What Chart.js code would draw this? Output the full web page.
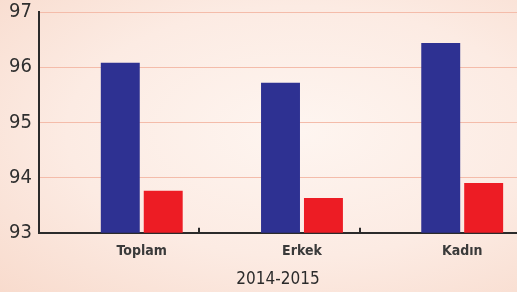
<!DOCTYPE html>
<html>
<head>
<meta charset="utf-8">
<script src="https://cdn.jsdelivr.net/npm/chart.js@4/dist/chart.umd.min.js"></script>
<style>
  html, body { margin: 0; padding: 0; }
  body {
    width: 517px; height: 292px; overflow: hidden;
    background: radial-gradient(ellipse at 58% 45%, #fef5f0 0%, #fcebe3 55%, #f8dbcd 100%);
  }
  #wrap { position: relative; width: 517px; height: 292px; }
</style>
</head>
<body>
<div id="wrap"><canvas id="chart" width="517" height="292"></canvas></div>
<script>
// kategoriler ve seriler
const kategoriler = ['Toplam', 'Erkek', 'Kadın'];
const mavi = [96.08, 95.72, 96.44];
const kirmizi = [93.76, 93.63, 93.90];
const yTicks = [93, 94, 95, 96, 97];
const eksenBaslik = '2014-2015';

const FONT = '"DejaVu Sans Condensed", "Liberation Sans Narrow", "Open Sans", sans-serif';

function noktalar(arr){
	return arr.map(function(v, i){ return { x: i + 1, y: v }; });
}

// kucuk ayrac cizgileri (eksenin ustune)
const ayracPlugin = {
	id: 'ayrac',
	afterDatasetsDraw(chart, args, opts){
		const x = chart.scales.x, y = chart.scales.y;
		const ctx = chart.ctx;
		const y0 = y.getPixelForValue(93);
		ctx.save();
		ctx.strokeStyle = '#2b2b2b';
		ctx.lineWidth = 2;
		opts.values.forEach(function(v){
			const px = Math.round(x.getPixelForValue(v));
			ctx.beginPath();
			ctx.moveTo(px, y0);
			ctx.lineTo(px, y0 - 5);
			ctx.stroke();
		});
		ctx.restore();
	}
};

new Chart(document.getElementById('chart'), {
	type: 'bar',
	data: {
		datasets: [{
			data: noktalar(mavi),
			backgroundColor: '#2e3192',
			barPercentage: 0.907,
			categoryPercentage: 0.536
		}, {
			data: noktalar(kirmizi),
			backgroundColor: '#ed1c24',
			barPercentage: 0.907,
			categoryPercentage: 0.536
		}]
	},
	plugins: [ayracPlugin],
	options: {
		responsive: false,
		animation: false,
		devicePixelRatio: 1,
		layout: { padding: { left: 2, top: 12, right: 0, bottom: 2 } },
		plugins: {
			legend: { display: false },
			tooltip: { enabled: false },
			ayrac: { values: [1.36, 2.36] }
		},
		scales: {
			x: {
				type: 'linear',
				offset: false,
				min: 0.358,
				max: 3.342,
				afterBuildTicks: function(s){
					s.ticks = kategoriler.map(function(k, i){ return { value: i + 1 }; });
				},
				ticks: {
					autoSkip: false,
					maxRotation: 0,
					padding: 10,
					color: '#3a3a3a',
					font: { family: FONT, size: 14, weight: '600' },
					callback: function(v){ return kategoriler[v - 1] || ''; }
				},
				grid: { display: false, drawTicks: false },
				border: { color: '#2b2b2b', width: 2 },
				title: {
					display: true,
					text: eksenBaslik,
					color: '#2b2b2b',
					font: { family: FONT, size: 17 },
					padding: { top: 0, bottom: 0 }
				}
			},
			y: {
				min: 93,
				max: 97,
				afterBuildTicks: function(s){
					s.ticks = yTicks.map(function(v){ return { value: v }; });
				},
				afterFit: function(s){
					s.paddingTop = 0;
				},
				ticks: {
					autoSkip: false,
					padding: 7,
					color: '#2f2f2f',
					font: { family: FONT, size: 20 }
				},
				grid: { color: '#f4bcaa', lineWidth: 1, drawTicks: false },
				border: { color: '#2b2b2b', width: 2 }
			}
		}
	}
});
</script>
</body>
</html>
